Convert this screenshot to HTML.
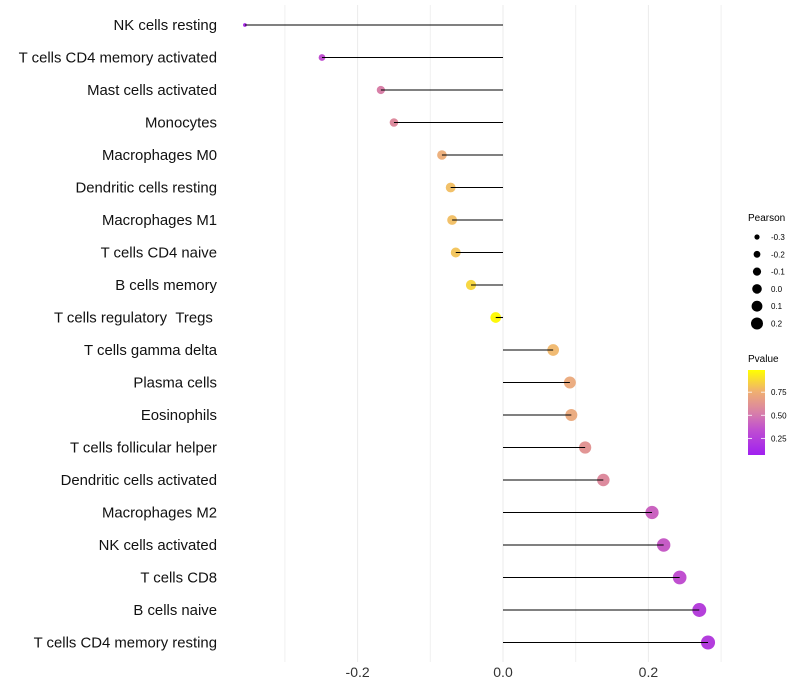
<!DOCTYPE html>
<html><head><meta charset="utf-8"><style>
body{margin:0;background:#fff;}
svg{display:block;font-family:"Liberation Sans",sans-serif;}
</style></head><body>
<svg id="chart" width="800" height="700">
<defs>
<linearGradient id="pgrad" x1="0" y1="1" x2="0" y2="0">
<stop offset="0" stop-color="#A020F0"/>
<stop offset="0.3" stop-color="#C050D0"/>
<stop offset="0.5" stop-color="#D880A8"/>
<stop offset="0.75" stop-color="#F0B070"/>
<stop offset="1" stop-color="#FFFF00"/>
</linearGradient>
</defs>
<g id="grid"></g>
<g id="marks"></g>
<g id="labels"></g>
<g id="legend">
<text x="748" y="221" font-size="10" fill="#000">Pearson</text>
<g id="sizeLegend"></g>
<text x="748" y="362" font-size="10" fill="#000">Pvalue</text>
<rect x="748" y="370" width="17" height="85" fill="url(#pgrad)"/>
<g id="colorTicks"></g>
</g>
</svg>
<script>
const categories=["NK cells resting","T cells CD4 memory activated","Mast cells activated","Monocytes","Macrophages M0","Dendritic cells resting","Macrophages M1","T cells CD4 naive","B cells memory","T cells regulatory\u00a0\u00a0Tregs\u00a0","T cells gamma delta","Plasma cells","Eosinophils","T cells follicular helper","Dendritic cells activated","Macrophages M2","NK cells activated","T cells CD8","B cells naive","T cells CD4 memory resting"];
const pearson=[-0.355,-0.249,-0.168,-0.150,-0.084,-0.072,-0.070,-0.065,-0.044,-0.010,0.069,0.092,0.094,0.113,0.138,0.205,0.221,0.243,0.270,0.282];
const pvalue=[0.08,0.3,0.5,0.55,0.72,0.78,0.78,0.8,0.86,0.98,0.76,0.7,0.7,0.6,0.55,0.38,0.35,0.3,0.2,0.18];
const xTicks=[-0.2,0.0,0.2];
const xGrid=[-0.3,-0.1,0.1,0.3];
const sizeLegendVals=[-0.3,-0.2,-0.1,0.0,0.1,0.2];
const colorTickVals=[0.25,0.50,0.75];

const NS="http://www.w3.org/2000/svg";
const x=v=>503+v*727;
const y=i=>25+i*32.5;
const r=v=>Math.sqrt(3.5+(v+0.355)/0.637*46);
const stops=[[0,[160,32,240]],[0.3,[192,80,208]],[0.5,[216,128,168]],[0.75,[240,184,120]],[1,[255,255,0]]];
function col(p){for(let k=1;k<stops.length;k++){if(p<=stops[k][0]){const a=stops[k-1],b=stops[k];const t=(p-a[0])/(b[0]-a[0]);const c=a[1].map((u,j)=>Math.round(u+(b[1][j]-u)*t));return `rgb(${c})`;}}return "rgb(255,255,0)";}
function mk(tag,attrs,parent){const e=document.createElementNS(NS,tag);for(const k in attrs)e.setAttribute(k,attrs[k]);parent.appendChild(e);return e;}
const grid=document.getElementById('grid'),marks=document.getElementById('marks'),labels=document.getElementById('labels');
xGrid.forEach(v=>{const l=mk('line',{x1:x(v),x2:x(v),y1:5,y2:662,stroke:'#f0f0f0','stroke-width':1},grid);

});
xTicks.forEach(v=>{const l=mk('line',{x1:x(v),x2:x(v),y1:5,y2:662,stroke:'#ebebeb','stroke-width':1},grid);


const t=mk('text',{x:x(v),y:677,'font-size':14,'text-anchor':'middle',fill:'#333'},labels);
t.textContent=v.toFixed(1);

});
categories.forEach((c,i)=>{
const t=mk('text',{x:217,y:y(i)+5,'font-size':14.9,'text-anchor':'end',fill:'#111'},labels);
t.textContent=c;


const d=mk('circle',{cx:x(pearson[i]),cy:y(i),r:r(pearson[i]),fill:col(pvalue[i])},marks);


const l=mk('line',{x1:x(0),x2:x(pearson[i]),y1:y(i),y2:y(i),stroke:'#000','stroke-width':1.1},marks);

});
const sl=document.getElementById('sizeLegend');
const lr=[2.6,3.4,4.1,4.8,5.4,6.0];
sizeLegendVals.forEach((v,k)=>{const cy=237+k*17.3;
const c=mk('circle',{cx:757,cy:cy,r:lr[k],fill:'#000'},sl);


const t=mk('text',{x:771,y:cy+3,'font-size':8,fill:'#000'},sl);
t.textContent=v.toFixed(1);

});
const ct=document.getElementById('colorTicks');
colorTickVals.forEach(v=>{const yy=455-(v-0.07)/0.92*85;
[748,761].forEach(xx=>{const l=mk('line',{x1:xx,x2:xx+4,y1:yy,y2:yy,stroke:'#fff','stroke-width':0.8},ct);

});
const t=mk('text',{x:771,y:yy+3,'font-size':8,fill:'#000'},ct);
t.textContent=v.toFixed(2);

});
</script>
</body></html>
